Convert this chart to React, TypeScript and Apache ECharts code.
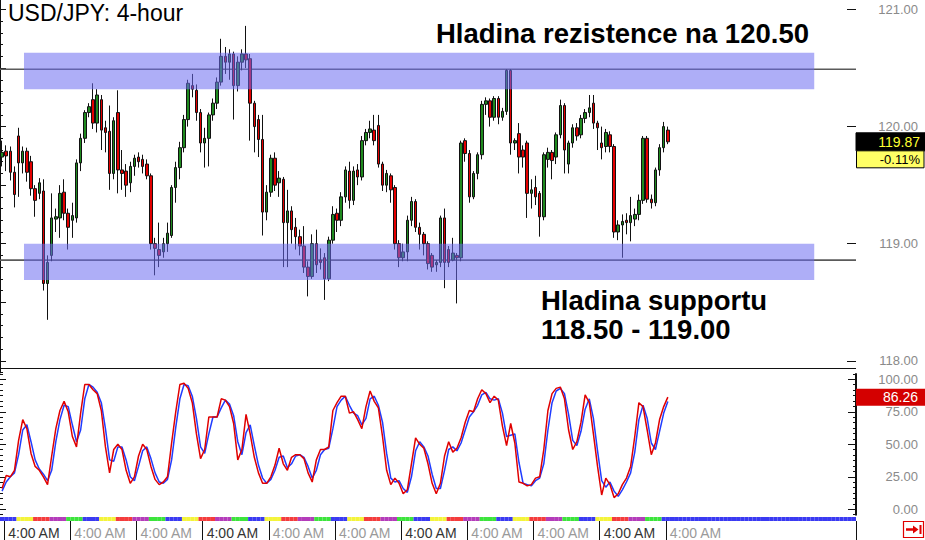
import { useEffect, useRef } from 'react';
import * as echarts from 'echarts';

// ---------------- DATA ----------------
const titleText = 'USD/JPY: 4-hour';
const resistanceText = 'Hladina rezistence na 120.50';
const supportText1 = 'Hladina supportu';
const supportText2 = '118.50 - 119.00';

const openP = [
  119.74, 119.79, 119.79, 119.61, 119.92, 119.69, 119.79, 119.70, 119.47, 119.43,
  119.45, 118.66, 118.90, 119.21, 119.22, 119.44, 119.26, 119.20, 119.22, 119.69,
  119.90, 120.12, 120.23, 120.03, 120.23, 119.99, 119.96, 119.60, 120.12, 119.63,
  119.62, 119.52, 119.66, 119.74, 119.72, 119.68, 119.58, 119.00, 118.95, 118.93,
  119.00, 119.07, 119.48, 119.65, 119.82, 120.06, 120.35, 120.31, 120.12, 119.86,
  119.90, 120.10, 120.20, 120.38, 120.60, 120.55, 120.62, 120.35, 120.55, 120.62,
  120.58, 120.20, 120.06, 119.89, 119.27, 119.44, 119.73, 119.52, 119.55, 119.18,
  119.28, 119.14, 119.06, 118.98, 118.80, 118.72, 119.00, 118.86, 118.88, 118.70,
  119.03, 119.26, 119.20, 119.40, 119.62, 119.37, 119.63, 119.57, 119.88, 119.95,
  119.97, 120.01, 119.68, 119.50, 119.58, 119.48, 119.00, 118.88, 118.93, 119.20,
  119.36, 119.14, 119.08, 119.00, 118.90, 118.82, 118.84, 119.22, 118.95, 118.86,
  118.90, 118.88, 119.88, 119.77, 119.40, 119.60, 119.76, 120.19, 120.22, 120.08,
  120.24, 120.08, 120.13, 120.48, 119.86, 119.94, 119.80, 119.86, 119.43, 119.48,
  119.43, 119.23, 119.72, 119.78, 119.74, 119.93, 120.18, 119.68, 119.86, 119.99,
  119.93, 120.07, 120.12, 120.20, 120.03, 119.86, 119.83, 119.93, 119.83, 119.10,
  119.16, 119.20, 119.18, 119.21, 119.25, 119.37, 119.90, 119.38, 119.35, 119.63,
  119.82, 119.97,
];
const highP = [
  119.88, 119.84, 119.83, 119.66, 119.99, 119.83, 119.82, 119.75, 119.50, 119.56,
  119.55, 118.90, 119.43, 119.30, 119.50, 119.55, 119.30, 119.35, 119.72, 119.94,
  120.14, 120.20, 120.37, 120.32, 120.27, 120.05, 120.18, 120.08, 120.31, 119.80,
  119.68, 119.70, 119.76, 119.78, 119.76, 119.72, 119.60, 119.05, 119.18, 119.05,
  119.18, 119.50, 119.70, 119.87, 120.10, 120.40, 120.45, 120.36, 120.15, 119.99,
  120.12, 120.24, 120.42, 120.75, 120.68, 120.66, 120.64, 120.60, 120.66, 120.86,
  120.62, 120.22, 120.10, 120.10, 119.50, 119.76, 119.78, 119.62, 119.57, 119.46,
  119.32, 119.22, 119.12, 119.15, 118.85, 119.08, 119.12, 118.96, 118.92, 119.06,
  119.32, 119.30, 119.44, 119.66, 119.70, 119.66, 119.68, 119.92, 119.98, 120.05,
  120.10, 120.10, 119.70, 119.63, 119.60, 119.50, 119.03, 119.00, 119.24, 119.40,
  119.38, 119.18, 119.10, 119.02, 118.92, 118.86, 119.24, 119.30, 118.98, 119.05,
  118.92, 119.88, 119.90, 119.80, 119.62, 119.78, 120.22, 120.25, 120.24, 120.26,
  120.26, 120.16, 120.49, 120.49, 119.90, 120.03, 119.84, 119.88, 119.55, 119.58,
  119.45, 119.78, 119.82, 119.80, 119.95, 120.23, 120.20, 119.88, 120.02, 120.03,
  120.10, 120.15, 120.27, 120.27, 120.05, 120.00, 119.98, 119.96, 119.85, 119.20,
  119.25, 119.26, 119.40, 119.30, 119.42, 119.92, 119.92, 119.42, 119.65, 119.85,
  120.04, 120.00,
];
const lowP = [
  119.66, 119.62, 119.54, 119.31, 119.40, 119.60, 119.53, 119.41, 119.23, 119.38,
  118.60, 118.35, 118.85, 119.10, 119.05, 119.20, 118.95, 119.05, 119.18, 119.62,
  119.86, 120.08, 119.98, 119.95, 119.80, 119.78, 119.46, 119.55, 119.43, 119.46,
  119.40, 119.44, 119.58, 119.65, 119.60, 119.55, 118.95, 118.73, 118.80, 118.88,
  118.93, 119.05, 119.35, 119.55, 119.78, 120.00, 120.25, 120.05, 119.78, 119.65,
  119.66, 120.05, 120.15, 120.35, 120.45, 120.40, 120.06, 120.30, 120.48, 120.50,
  119.88, 119.78, 119.74, 119.07, 119.20, 119.40, 119.45, 119.40, 118.80, 118.80,
  119.00, 118.95, 118.90, 118.75, 118.55, 118.70, 118.75, 118.78, 118.52, 118.68,
  119.00, 119.10, 119.15, 119.35, 119.30, 119.33, 119.50, 119.54, 119.84, 119.90,
  119.84, 119.65, 119.45, 119.44, 119.35, 118.95, 118.80, 118.85, 118.85, 119.15,
  119.10, 118.95, 118.90, 118.78, 118.76, 118.76, 118.80, 118.62, 118.80, 118.85,
  118.49, 118.85, 119.70, 119.35, 119.38, 119.55, 119.72, 120.10, 120.00, 120.05,
  120.02, 120.05, 120.10, 119.76, 119.80, 119.60, 119.65, 119.22, 119.30, 119.33,
  119.06, 119.20, 119.65, 119.55, 119.68, 119.90, 119.60, 119.60, 119.82, 119.88,
  119.90, 120.03, 120.08, 119.98, 119.80, 119.72, 119.78, 119.78, 119.05, 119.03,
  118.88, 119.08, 119.02, 119.15, 119.20, 119.34, 119.35, 119.30, 119.32, 119.58,
  119.78, 119.85,
];
const closeP = [
  119.78, 119.75, 119.61, 119.42, 119.69, 119.79, 119.61, 119.47, 119.37, 119.52,
  118.66, 118.84, 119.22, 119.23, 119.43, 119.26, 119.14, 119.24, 119.69, 119.90,
  120.12, 120.17, 120.03, 120.27, 119.97, 119.95, 119.60, 120.05, 119.63, 119.60,
  119.50, 119.66, 119.73, 119.70, 119.66, 119.58, 119.00, 118.96, 118.90, 119.00,
  119.09, 119.48, 119.65, 119.82, 120.06, 120.37, 120.32, 120.12, 119.86, 119.90,
  120.10, 120.20, 120.38, 120.60, 120.55, 120.62, 120.35, 120.55, 120.62, 120.57,
  120.20, 120.00, 119.89, 119.27, 119.44, 119.73, 119.50, 119.56, 119.18, 119.28,
  119.12, 119.06, 118.98, 118.80, 118.72, 119.00, 118.82, 118.84, 118.70, 119.03,
  119.25, 119.20, 119.40, 119.63, 119.37, 119.62, 119.57, 119.88, 119.95, 119.98,
  119.88, 119.68, 119.50, 119.60, 119.46, 119.00, 118.88, 118.93, 119.20, 119.36,
  119.14, 119.08, 119.00, 118.83, 118.80, 118.84, 119.22, 118.84, 118.84, 118.92,
  118.88, 119.86, 119.77, 119.40, 119.60, 119.76, 120.19, 120.22, 120.08, 120.24,
  120.08, 120.13, 120.48, 119.86, 119.88, 119.74, 119.74, 119.43, 119.46, 119.40,
  119.23, 119.76, 119.78, 119.71, 119.93, 120.18, 119.80, 119.86, 119.99, 119.92,
  120.07, 120.12, 120.16, 120.03, 119.99, 119.82, 119.95, 119.83, 119.10, 119.16,
  119.19, 119.18, 119.24, 119.25, 119.37, 119.90, 119.38, 119.35, 119.63, 119.82,
  120.00, 119.87,
];

// Stochastic oscillator (%K red, %D blue)
const stochK = [
  16, 26, 25, 30, 53, 69, 62, 43, 33, 30,
  25, 19, 41, 62, 76, 83, 75, 56, 48, 74,
  96, 96, 92, 89, 76, 48, 28, 46, 50, 46,
  30, 20, 25, 41, 50, 46, 33, 23, 19, 21,
  25, 51, 75, 96, 97, 93, 82, 58, 39, 46,
  71, 71, 71, 85, 84, 79, 66, 38, 46, 73,
  58, 40, 28, 20, 20, 25, 34, 47, 35, 30,
  40, 42, 42, 39, 28, 21, 38, 46, 46, 48,
  76, 82, 87, 87, 74, 75, 69, 62, 79, 91,
  83, 78, 56, 30, 19, 24, 20, 12, 15, 35,
  55, 50, 47, 35, 20, 12, 20, 41, 52, 44,
  47, 55, 67, 76, 75, 85, 92, 89, 82, 87,
  84, 64, 49, 66, 51, 21, 20, 18, 19, 24,
  25, 46, 76, 89, 93, 94, 85, 61, 46, 52,
  67, 88, 82, 58, 33, 11, 24, 19, 9, 12,
  19, 24, 33, 56, 82, 79, 61, 42, 51, 69,
  79, 86.26,
];
const stochD = [
  14, 21, 25, 28, 42, 61, 65, 52, 38, 31,
  27, 22, 30, 52, 69, 80, 79, 65, 52, 61,
  85, 96, 94, 90, 82, 62, 38, 37, 48, 48,
  38, 25, 22, 33, 45, 48, 39, 28, 21, 20,
  23, 38, 63, 85, 96, 95, 87, 70, 48, 43,
  58, 71, 71, 78, 84, 81, 72, 52, 42, 59,
  65, 49, 34, 24, 20, 23, 30, 40, 41, 32,
  35, 41, 42, 40, 33, 24, 30, 42, 46, 47,
  62, 79, 84, 87, 80, 74, 72, 65, 70, 85,
  87, 80, 67, 43, 24, 21, 22, 16, 13, 25,
  45, 52, 48, 41, 27, 16, 16, 30, 46, 48,
  45, 51, 61, 71, 75, 80, 88, 90, 85, 84,
  85, 74, 56, 57, 58, 36, 20, 19, 18, 22,
  24, 35, 61, 82, 91, 93, 89, 73, 53, 49,
  60, 77, 85, 70, 45, 22, 17, 21, 14, 10,
  15, 21, 28, 44, 69, 80, 70, 51, 46, 60,
  74, 83,
];

const lastPrice = 119.87;
const changePct = -0.11;
const lastK = 86.26;

// Price levels (bands and lines)
const resistanceBand = [120.63, 120.32];
const resistanceLine = 120.49;
const supportBand = [119.0, 118.69];
const supportLine = 118.86;

// time axis
const timeLabel = '4:00 AM';
const labelSlots = [1, 17, 33, 49, 65, 81, 97, 113, 129, 145, 161];
const darkLabelSlots = [1, 49, 97, 145];
// session colour strip, one letter per segment
const stripSegments = 'BYRMGBYRMGBYRMGBYRMGBYRMGBYRMGBYRMGBYRMGBBBBBBBBBBBB';

// ---------------- LAYOUT / STYLE ----------------
const SLOT_COUNT = 207;
const SLOTS_PER_SEGMENT = 4;
const RIGHT = 69; // axis at x = 856
const AXIS_X = 925 - RIGHT;
const FONT = '"Liberation Sans", Arial, Helvetica, sans-serif';
const stripColors: Record<string, string> = {
  B: '#3a3af2',
  Y: '#f4f43a',
  R: '#f43c3c',
  M: '#b43cba',
  G: '#3ce43c',
};
const BAND_FROM = 5.8;
const BAND_TO = 196.9;
const STOCH_STEP = 25 / 6;

const slotNames = Array.from({ length: SLOT_COUNT }, (_, i) => String(i));

export default function App() {
  const ref = useRef<HTMLDivElement>(null);

  useEffect(() => {
    const el = ref.current;
    if (!el) return;
    const chart = echarts.init(el, undefined, { renderer: 'svg' });

    const candles = openP.map((o, i) => [o, closeP[i], lowP[i], highP[i]]);
    const stripData = slotNames.map((_, i) => ({
      value: 1,
      itemStyle: { color: stripColors[stripSegments[Math.floor(i / SLOTS_PER_SEGMENT)]] || stripColors.B },
    }));

    const tick = (len: number) => ({
      show: true,
      inside: true,
      length: len,
      lineStyle: { color: '#111', width: 1 },
    });
    const noLine = { show: false };
    const axisLine = { show: true, lineStyle: { color: '#111', width: 2 } };
    const noLabel = { show: false };
    const noSplit = { show: false };
    const rightLabel = {
      show: true,
      color: '#8a8a8a',
      fontSize: 13,
      fontFamily: FONT,
      align: 'right',
      margin: 62,
      formatter: (v: number) => v.toFixed(2),
    };

    const gridBase = { left: 0, right: RIGHT, containLabel: false, outerBoundsMode: 'none' };

    const option: any = {
      animation: false,
      backgroundColor: '#ffffff',
      grid: [
        { ...gridBase, top: -2.2, height: 374.7 }, // 0 price (minor ticks)
        { ...gridBase, top: 9.5, height: 351.3 }, // 1 price major ticks
        { ...gridBase, top: 379.3 - STOCH_STEP * 1.3, height: (100 + 2 * STOCH_STEP) * 1.3 }, // 2 stoch
        { ...gridBase, top: 379.3, height: 130 }, // 3 stoch major
        { ...gridBase, top: 517, height: 4 }, // 4 strip + time labels
      ],
      xAxis: [
        { type: 'category', gridIndex: 0, data: slotNames, show: false },
        { type: 'value', gridIndex: 0, min: 0, max: SLOT_COUNT, show: false },
        { type: 'category', gridIndex: 1, data: ['a'], show: false },
        { type: 'category', gridIndex: 2, data: slotNames, show: false },
        { type: 'category', gridIndex: 3, data: ['a'], show: false },
        {
          type: 'category',
          gridIndex: 4,
          data: slotNames,
          position: 'bottom',
          axisLine: noLine,
          axisTick: {
            show: true,
            interval: (idx: number) => labelSlots.includes(idx),
            length: 19,
            lineStyle: { color: '#111', width: 1 },
          },
          axisLabel: {
            show: true,
            interval: (idx: number) => labelSlots.includes(idx),
            align: 'left',
            margin: 5,
            padding: [0, 0, 0, 2],
            formatter: (_v: string, idx: number) =>
              darkLabelSlots.includes(idx) ? `{d|${timeLabel}}` : `{l|${timeLabel}}`,
            rich: {
              d: { color: '#333333', fontSize: 14, fontFamily: FONT },
              l: { color: '#9a9a9a', fontSize: 14, fontFamily: FONT },
            },
          },
          splitLine: noSplit,
        },
      ],
      yAxis: [
        { type: 'value', gridIndex: 0, position: 'right', min: 117.9, max: 121.1, interval: 0.1,
          axisLine, axisTick: tick(3), axisLabel: noLabel, splitLine: noSplit },
        { type: 'value', gridIndex: 0, position: 'left', min: 117.9, max: 121.1, interval: 0.1,
          axisLine: noLine, axisTick: tick(3), axisLabel: noLabel, splitLine: noSplit },
        { type: 'value', gridIndex: 1, position: 'right', min: 118, max: 121, interval: 1,
          axisLine: noLine, axisTick: tick(9), axisLabel: rightLabel, splitLine: noSplit },
        { type: 'value', gridIndex: 1, position: 'left', min: 118, max: 121, interval: 0.5,
          axisLine: noLine, axisTick: tick(6), axisLabel: noLabel, splitLine: noSplit },
        { type: 'value', gridIndex: 2, position: 'right', min: -STOCH_STEP, max: 100 + STOCH_STEP,
          interval: STOCH_STEP, axisLine, axisTick: tick(3), axisLabel: noLabel, splitLine: noSplit },
        { type: 'value', gridIndex: 2, position: 'left', min: -STOCH_STEP, max: 100 + STOCH_STEP,
          interval: STOCH_STEP, axisLine: noLine, axisTick: tick(3), axisLabel: noLabel, splitLine: noSplit },
        { type: 'value', gridIndex: 3, position: 'right', min: 0, max: 100, interval: 25,
          axisLine: noLine, axisTick: tick(8), axisLabel: rightLabel, splitLine: noSplit },
        { type: 'value', gridIndex: 3, position: 'left', min: 0, max: 100, interval: 25,
          axisLine: noLine, axisTick: tick(6), axisLabel: noLabel, splitLine: noSplit },
        { type: 'value', gridIndex: 4, min: 0, max: 1, show: false },
      ],
      series: [
        {
          type: 'line',
          xAxisIndex: 1,
          yAxisIndex: 0,
          data: [[0, resistanceLine], [SLOT_COUNT, resistanceLine]],
          symbol: 'none',
          lineStyle: { color: '#5a5a5a', width: 1.6 },
          z: 1,
        },
        {
          type: 'line',
          xAxisIndex: 1,
          yAxisIndex: 0,
          data: [[0, supportLine], [SLOT_COUNT, supportLine]],
          symbol: 'none',
          lineStyle: { color: '#5a5a5a', width: 1.6 },
          z: 1,
        },
        {
          type: 'candlestick',
          xAxisIndex: 0,
          yAxisIndex: 0,
          data: candles,
          barWidth: 3,
          itemStyle: {
            color: '#1f8a1f',
            color0: '#e40000',
            borderColor: '#111',
            borderColor0: '#111',
            borderColorDoji: '#111',
            borderWidth: 1,
          },
          z: 2,
        },
        {
          type: 'custom',
          xAxisIndex: 1,
          yAxisIndex: 0,
          data: [
            [BAND_FROM, BAND_TO, resistanceBand[0], resistanceBand[1]],
            [BAND_FROM, BAND_TO, supportBand[0], supportBand[1]],
          ],
          renderItem: (_p: any, api: any) => {
            const a = api.coord([api.value(0), api.value(2)]);
            const b = api.coord([api.value(1), api.value(3)]);
            return {
              type: 'rect',
              shape: { x: a[0], y: a[1], width: b[0] - a[0], height: b[1] - a[1] },
              style: { fill: 'rgba(108,108,240,0.55)' },
            };
          },
          z: 5,
          silent: true,
        },
        {
          type: 'line',
          xAxisIndex: 3,
          yAxisIndex: 4,
          data: stochD,
          symbol: 'none',
          lineStyle: { color: '#1f3cff', width: 1.5 },
          z: 3,
        },
        {
          type: 'line',
          xAxisIndex: 3,
          yAxisIndex: 4,
          data: stochK,
          symbol: 'none',
          lineStyle: { color: '#e00000', width: 1.5 },
          z: 4,
        },
        {
          type: 'bar',
          xAxisIndex: 5,
          yAxisIndex: 8,
          data: stripData,
          barCategoryGap: '0%',
          barWidth: '100%',
          silent: true,
        },
      ],
    };

    chart.setOption(option);

    const yPrice = chart.convertToPixel({ yAxisIndex: 0 } as any, lastPrice) as unknown as number;
    const yK = chart.convertToPixel({ yAxisIndex: 4 } as any, lastK) as unknown as number;

    const pctText = `${changePct > 0 ? '+' : ''}${changePct.toFixed(2)}%`;

    chart.setOption({
      graphic: [
        { type: 'line', z: 50, shape: { x1: 0, y1: 368.5, x2: AXIS_X, y2: 368.5 },
          style: { stroke: '#111', lineWidth: 1 } },
        { type: 'text', z: 50, x: 8, y: 13,
          style: { text: titleText, font: `normal 23px ${FONT}`, fill: '#000', verticalAlign: 'middle' } },
        { type: 'text', z: 50, x: 436, y: 33,
          style: { text: resistanceText, font: `bold 27.5px ${FONT}`, fill: '#000', verticalAlign: 'middle' } },
        { type: 'text', z: 50, x: 541, y: 300,
          style: { text: supportText1, font: `bold 27.5px ${FONT}`, fill: '#000', verticalAlign: 'middle' } },
        { type: 'text', z: 50, x: 541, y: 329,
          style: { text: supportText2, font: `bold 27.5px ${FONT}`, fill: '#000', verticalAlign: 'middle' } },
        { type: 'rect', z: 60, shape: { x: AXIS_X, y: yPrice - 9, width: 925 - AXIS_X, height: 18 },
          style: { fill: '#000', stroke: '#000', lineWidth: 1 } },
        { type: 'text', z: 61, x: 920, y: yPrice,
          style: { text: lastPrice.toFixed(2), font: `normal 14px ${FONT}`, fill: '#ffff33',
            align: 'right', verticalAlign: 'middle' } },
        { type: 'rect', z: 60, shape: { x: AXIS_X + 0.5, y: yPrice + 9, width: 925 - AXIS_X - 1.5, height: 17 },
          style: { fill: '#ffff66', stroke: '#000', lineWidth: 1 } },
        { type: 'text', z: 61, x: 920, y: yPrice + 17.5,
          style: { text: pctText, font: `normal 13px ${FONT}`, fill: '#000', align: 'right', verticalAlign: 'middle' } },
        { type: 'rect', z: 60, shape: { x: AXIS_X, y: yK - 8.5, width: 925 - AXIS_X, height: 17 },
          style: { fill: '#d40000' } },
        { type: 'text', z: 61, x: 918, y: yK,
          style: { text: lastK.toFixed(2), font: `normal 14px ${FONT}`, fill: '#ffffff',
            align: 'right', verticalAlign: 'middle' } },
        { type: 'rect', z: 60, shape: { x: 903.5, y: 521.5, width: 20, height: 16 },
          style: { fill: '#fff', stroke: '#e00000', lineWidth: 1.2 } },
        { type: 'line', z: 61, shape: { x1: 906, y1: 529.5, x2: 915, y2: 529.5 },
          style: { stroke: '#e00000', lineWidth: 2.5 } },
        { type: 'polygon', z: 61, shape: { points: [[913, 525.5], [918.5, 529.5], [913, 533.5]] },
          style: { fill: '#e00000' } },
        { type: 'line', z: 61, shape: { x1: 920.5, y1: 525, x2: 920.5, y2: 534 },
          style: { stroke: '#e00000', lineWidth: 2 } },
      ],
    });

    return () => chart.dispose();
  }, []);

  return (
    <div
      ref={ref}
      style={{ position: 'fixed', left: 0, top: 0, width: 925, height: 540, background: '#fff' }}
    />
  );
}
